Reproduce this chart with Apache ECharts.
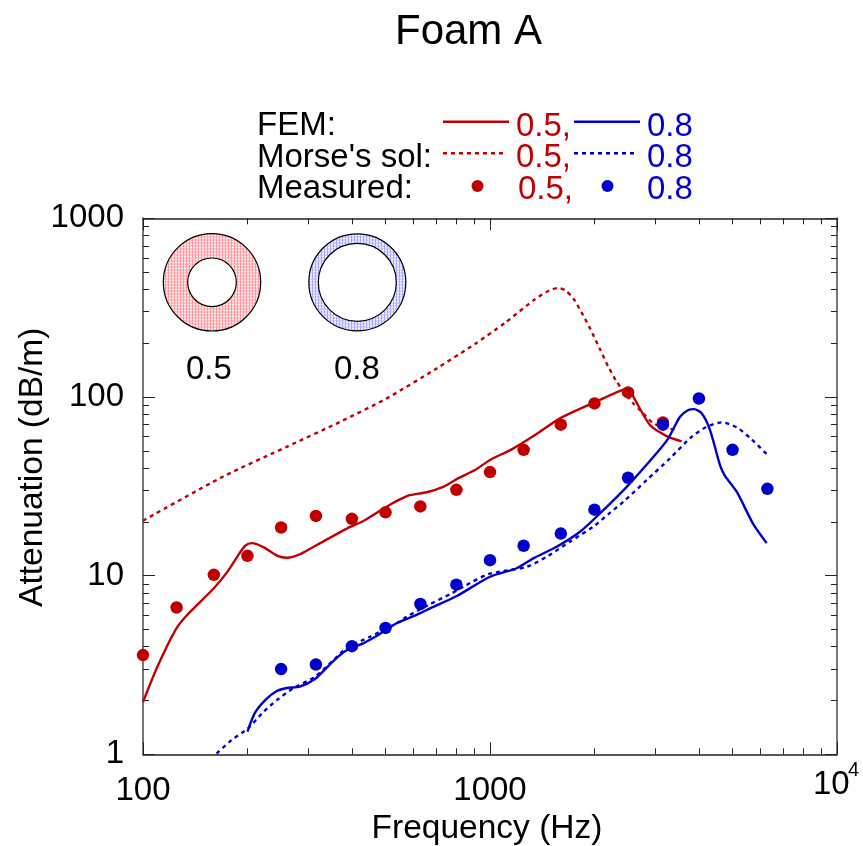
<!DOCTYPE html>
<html><head><meta charset="utf-8">
<style>html,body{margin:0;padding:0;background:#fff}#c{width:863px;height:846px}</style>
<script src="https://cdn.jsdelivr.net/npm/echarts@6/dist/echarts.min.js"></script>
</head><body><div id="c"></div>
<script>
const titleText = 'Foam A';
const xName = 'Frequency (Hz)';
const yName = 'Attenuation (dB/m)';
const RED = '#c00000', BLUE = '#0000cc';

const femA = [[100,1.96],[110,3.09],[124,4.96],[134,6.02],[160,8.5],[175,10.5],[189,13.2],[197,14.7],[206,15.2],[223,14.4],[244,12.9],[260,12.6],[284,13.2],[318,14.9],[388,18.4],[433,20.3],[505,24.4],[550,26.7],[588,28.2],[657,29.3],[733,31.4],[802,34.7],[905,39],[1000,44.4],[1155,50.9],[1348,61.2],[1591,75.9],[1920,90.1],[2369,108.3],[2499,110.8],[2588,100.3],[2891,69.6],[3229,60.4],[3567,56.4]];
const femB = [[200,1.34],[210,1.70],[225,2.01],[243,2.26],[260,2.35],[283,2.39],[313,2.64],[338,3.05],[365,3.52],[395,3.92],[431,4.18],[472,4.61],[538,5.41],[575,5.72],[628,6.15],[672,6.56],[802,7.69],[1000,9.86],[1194,11.0],[1333,12.5],[1556,14.5],[1817,17.6],[2075,22.3],[2477,31.4],[2989,47.3],[3265,58.7],[3529,77.5],[3729,84.5],[3872,85.5],[4074,81],[4306,65.3],[4600,41.6],[4755,36.2],[5140,29.5],[5739,19.4],[6270,15.2]];
const morseA = [[100,20.3],[170,35.8],[259.5,52.6],[370,72.6],[504,98.2],[702,144.5],[905,198],[1105,260],[1348,352],[1489,396],[1573,407],[1645,396],[1738,356],[1838,296],[1942,242],[2075,185],[2193,147.6],[2318,121.6],[2422,108],[2588,92],[2706,84.5],[2950,71.4],[3258,66.6],[3451,66]];
const morseB = [[163,1.01],[180,1.20],[201,1.40],[222,1.72],[243,2.01],[271,2.34],[313,2.72],[350,3.30],[386,3.92],[451,4.55],[538,5.41],[575,5.89],[664,6.85],[776,7.96],[847,8.78],[989,10.2],[1092,10.6],[1276,11.2],[1472,12.9],[1700,15.5],[1985,18.8],[2193,22.1],[2422,25.9],[2829,34.3],[3301,45.3],[3813,59.9],[4212,68.1],[4653,72.1],[5140,67.6],[5677,57.9],[6270,47.9]];
const measA = [[100,3.59],[125,6.63],[160,10.1],[200,12.9],[250,18.6],[315,21.6],[400,20.8],[500,22.6],[630,24.4],[800,30.2],[1000,38],[1250,50.6],[1600,70],[2000,92],[2500,106],[3150,72]];
const measB = [[250,3],[315,3.18],[400,4.03],[500,5.1],[630,6.94],[800,8.9],[1000,12.2],[1250,14.7],[1600,17.2],[2000,23.4],[2500,35.3],[3150,70],[4000,98],[5000,50.6],[6300,30.6]];

const FONT = '"Liberation Sans", Arial, sans-serif';
function tile(base, line, hole){
  const c = document.createElement('canvas'); c.width = c.height = 3;
  const g = c.getContext('2d'); g.fillStyle = base; g.fillRect(0,0,3,3);
  g.fillStyle = line; g.fillRect(0,0,1,3);
  g.fillStyle = hole; g.fillRect(1,1,1,1); g.fillRect(2,1,1,1);
  return {image:c, repeat:'repeat'};
}
function txt(t,x,y,size,fill,align){
  return {type:'text',silent:true,z:10,style:{text:t,x:x,y:y,fill:fill||'#000',font:size+'px '+FONT,textAlign:align||'left',textVerticalAlign:'middle'}};
}
function seg(x1,x2,y,col,dash){
  return {type:'line',silent:true,z:10,shape:{x1,y1:y,x2,y2:y},style:{stroke:col,lineWidth:2.4,lineDash:dash||null}};
}
function dot(x,y,col){
  return {type:'circle',silent:true,z:10,shape:{cx:x,cy:y,r:6},style:{fill:col}};
}
function ring(cx,cy,r,r0,fill){
  return {type:'ring',silent:true,z:5,shape:{cx,cy,r,r0},style:{fill:fill,stroke:'#000',lineWidth:1.2}};
}
const tick = len => ({show:true,inside:true,length:len,lineStyle:{color:'#222',width:1}});
const minor = {show:true,splitNumber:9,length:6,lineStyle:{color:'#222',width:1}};
function xAx(pos,labels){
  return {type:'log',logBase:10,min:100,max:10000,position:pos,
    axisLine:{show:true,lineStyle:{color:'#222',width:1.5}},axisTick:tick(12),minorTick:minor,splitLine:{show:false},minorSplitLine:{show:false},
    axisLabel:labels?{show:true,margin:20,color:'#000',fontFamily:FONT,fontSize:33,showMinLabel:true,showMaxLabel:false,
      formatter:v=>v>=9999?'':String(Math.round(v))}:{show:false},
    name:labels?xName:'',nameLocation:'middle',nameGap:57,nameMoveOverlap:false,nameTextStyle:{fontFamily:FONT,fontSize:33.5,color:'#000',padding:[0,6,0,0]}};
}
function yAx(pos,labels){
  return {type:'log',logBase:10,min:1,max:1000,position:pos,
    axisLine:{show:true,lineStyle:{color:'#777',width:2}},axisTick:tick(12),minorTick:minor,splitLine:{show:false},minorSplitLine:{show:false},
    axisLabel:labels?{show:true,margin:19,color:'#000',fontFamily:FONT,fontSize:33,showMinLabel:true,showMaxLabel:true,formatter:v=>String(Math.round(v))}:{show:false},
    name:labels?yName:'',nameLocation:'middle',nameGap:93,nameMoveOverlap:false,nameRotate:90,nameTextStyle:{fontFamily:FONT,fontSize:33.5,color:'#000',padding:[0,0,0,38]}};
}
const line = (name,data,col,dash,z) => ({name,type:'line',data,symbol:'none',smooth:0.25,z,lineStyle:{color:col,width:2.4,type:dash?[4,4]:'solid'}});
const pts = (name,data,col,z) => ({name,type:'scatter',data,symbol:'circle',symbolSize:12.5,z,itemStyle:{color:col,opacity:1},clip:false});

const chart = echarts.init(document.getElementById('c'),null,{renderer:'canvas'});
chart.setOption({
  animation:false,backgroundColor:'#fff',
  title:{text:titleText,left:390,top:6,textStyle:{fontFamily:FONT,fontSize:42,fontWeight:'normal',color:'#000'}},
  grid:{left:143,top:218.3,right:26,bottom:91.7,outerBoundsMode:'none'},
  xAxis:[xAx('bottom',true),xAx('top',false)],
  yAxis:[yAx('left',true),yAx('right',false)],
  series:[
    line('Morse 0.5',morseA,RED,true,2),
    line('Morse 0.8',morseB,BLUE,true,2),
    line('FEM 0.5',femA,RED,false,3),
    line('FEM 0.8',femB,BLUE,false,3),
    pts('Measured 0.5',measA,RED,4),
    pts('Measured 0.8',measB,BLUE,5)
  ],
  graphic:[
    txt('FEM:',257,126,33), txt("Morse's sol:",257,157.5,33), txt('Measured:',257,189,33),
    seg(443,509,121.7,RED), seg(443,507,153.3,RED,[4,4]), dot(477.5,186,RED),
    seg(574,640,121.7,BLUE), seg(574,638,153.3,BLUE,[4,4]), dot(607.5,186,BLUE),
    txt('0.5,',516,126.5,33,RED), txt('0.5,',516,157.5,33,RED), txt('0.5,',518,190,33,RED),
    txt('0.8',647,126.5,33,BLUE), txt('0.8',647,157.5,33,BLUE), txt('0.8',647,190,33,BLUE),
    ring(212,282.3,48.7,24.3,tile('#ffc4c8','#ff9ca4','#fff0f0')),
    ring(357.3,282.3,48.5,39,tile('#d4d4ff','#a8a8ff','#f4f4ff')),
    txt('0.5',186,370,33), txt('0.8',334,370,33),
    txt('10',813,785,33), txt('4',848,770,20)
  ]
});
</script></body></html>
